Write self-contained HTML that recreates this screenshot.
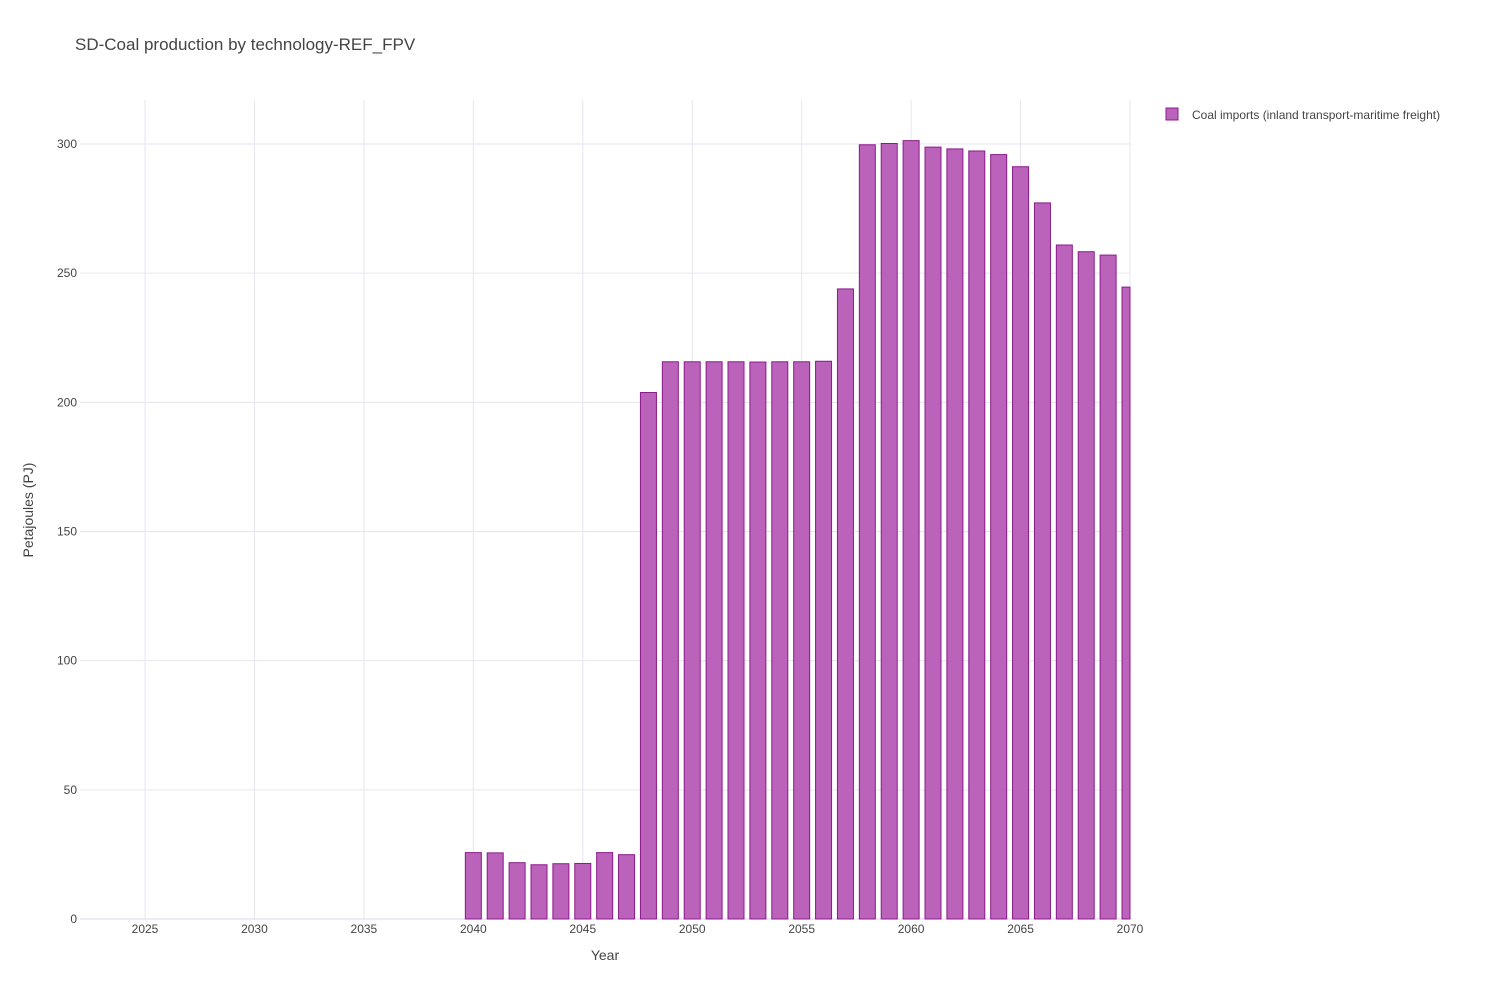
<!DOCTYPE html>
<html><head><meta charset="utf-8"><style>
body{margin:0;background:#fff;font-family:"Liberation Sans",Arial,sans-serif;}
svg text{font-family:"Liberation Sans",Arial,sans-serif;fill:#444;}
</style></head><body>
<svg id="chart" width="1500" height="1000">
<text x="75" y="50" font-size="17">SD-Coal production by technology-REF_FPV</text>
<g id="grid"></g>
<g id="bars"></g>
<g id="axes"></g>
<text x="605" y="960" font-size="14" text-anchor="middle">Year</text>
<text transform="translate(33,510) rotate(-90)" font-size="14" text-anchor="middle">Petajoules (PJ)</text>
<g>
<rect x="1166" y="108" width="12" height="12" fill="#bb62bb" stroke="#8b1a8b"/>
<text x="1192" y="119" font-size="12">Coal imports (inland transport-maritime freight)</text>
</g>
</svg>
<script>
const years=[2040,2041,2042,2043,2044,2045,2046,2047,2048,2049,2050,2051,2052,2053,2054,2055,2056,2057,2058,2059,2060,2061,2062,2063,2064,2065,2066,2067,2068,2069,2070];
const values=[25.7,25.6,21.8,21.0,21.4,21.5,25.7,24.9,203.8,215.7,215.7,215.7,215.7,215.6,215.7,215.7,215.9,243.9,299.7,300.2,301.3,298.8,298.1,297.3,295.9,291.2,277.2,260.9,258.3,257.0,244.6];
const xTicks=[2025,2030,2035,2040,2045,2050,2055,2060,2065,2070];
const yTicks=[0,50,100,150,200,250,300];
const NS="http://www.w3.org/2000/svg";
const L=80,R=1130,T=100,B=919;
const px=985/45;
const x=v=>145+(v-2025)*px;
const y=v=>B-v*(775/300);
const grid=document.getElementById('grid'),bars=document.getElementById('bars'),axes=document.getElementById('axes');
function mk(tag,attrs,parent){const e=document.createElementNS(NS,tag);for(const k in attrs)e.setAttribute(k,attrs[k]);parent.appendChild(e);return e;}
xTicks.forEach(t=>{
 const l=mk('line',{x1:x(t),x2:x(t),y1:T,y2:B,stroke:'#e6e6f0'},grid);
 
 
 const tx=mk('text',{x:x(t),y:B+14,'font-size':12,'text-anchor':'middle'},axes);
 tx.textContent=t;
 
 
});
yTicks.forEach(t=>{
 const l=mk('line',{x1:L,x2:R,y1:y(t),y2:y(t),stroke:t===0?'#d8d8e6':'#e6e6f0'},grid);
 
 
 const tx=mk('text',{x:L-3,y:y(t)+4,'font-size':12,'text-anchor':'end'},axes);
 tx.textContent=t;
 
 
});
const bw=16;
years.forEach((yr,i)=>{
 let x0=x(yr)-bw/2,x1=x(yr)+bw/2;
 if(x1>R)x1=R;
 const r=mk('rect',{x:x0,y:y(values[i]),width:x1-x0,height:B-y(values[i]),fill:'#bb62bb',stroke:'#8b1a8b','stroke-width':1},bars);
 
 
});
</script>
</body></html>
